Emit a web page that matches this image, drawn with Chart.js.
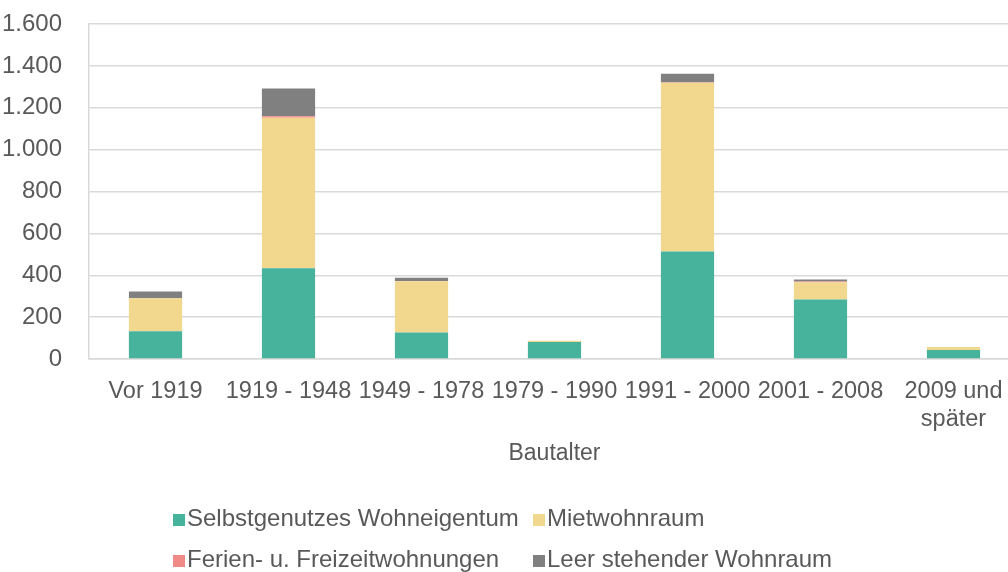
<!DOCTYPE html>
<html>
<head>
<meta charset="utf-8">
<script src="https://cdn.jsdelivr.net/npm/chart.js@4/dist/chart.umd.min.js"></script>
<style>
    html, body { margin: 0; padding: 0; overflow: hidden; background: #fff; }
    canvas { display: block; }
</style>
</head>
<body>
<canvas id="myChart" width="1020" height="572"></canvas>
<script>
const categories = ["Vor 1919", "1919 - 1948", "1949 - 1978", "1979 - 1990", "1991 - 2000", "2001 - 2008", ["2009 und", "später"]];
const seriesNames = ["Selbstgenutzes Wohneigentum", "Mietwohnraum", "Ferien- u. Freizeitwohnungen", "Leer stehender Wohnraum"];
const selbstgenutzt = [132, 433, 126, 81, 514, 284, 43];
const mietwohnraum = [158, 719, 245, 6, 805, 83, 14];
const ferienwohnungen = [0, 8, 1, 0, 3, 3, 0];
const leerstand = [32, 132, 16, 0, 40, 10, 0];
const yTicks = [0, 200, 400, 600, 800, 1000, 1200, 1400, 1600];

const colors = ["#47b39d", "#f2d88e", "#f08a86", "#808080"];
const textColor = "#595959";
const fontFamily = "'Liberation Sans', Arial, sans-serif";

// Legend in two columns, drawn by hand like the original
const gridLegend = {
    id: "gridLegend",
    afterDraw(chart) {
        const ctx = chart.ctx;
        const colX = [173, 533];
        const rowY = [519, 560];
        ctx.save();
        ctx.font = "24px " + fontFamily;
        ctx.textBaseline = "middle";
        ctx.textAlign = "left";
        chart.data.datasets.forEach((ds, i) => {
            const x = colX[i % 2];
            const y = rowY[Math.floor(i / 2)];
            ctx.fillStyle = ds.backgroundColor;
            ctx.fillRect(x, y - 5, 12, 12);
            ctx.fillStyle = textColor;
            ctx.fillText(ds.label, x + 14, y);
        });
        ctx.restore();
    }
};

const ctx = document.getElementById("myChart").getContext("2d");
const data = [selbstgenutzt, mietwohnraum, ferienwohnungen, leerstand];

new Chart(ctx, {
    type: "bar",
    data: {
        labels: categories,
        datasets: seriesNames.map((name, i) => ({
            label: name,
            data: data[i],
            backgroundColor: colors[i],
            borderWidth: 0,
            categoryPercentage: 1,
            barPercentage: 0.4
        }))
    },
    options: {
        responsive: false,
        animation: false,
        devicePixelRatio: 1,
        layout: { padding: { top: 24, right: 0, bottom: 105, left: 0 } },
        plugins: {
            legend: { display: false },
            tooltip: { enabled: false }
        },
        scales: {
            x: {
                stacked: true,
                grid: { display: false },
                border: { display: true, color: "#d9d9d9", width: 1.5 },
                ticks: {
                    color: textColor,
                    font: { family: fontFamily, size: 23.5 },
                    padding: 10,
                    maxRotation: 0,
                    autoSkip: false
                },
                title: {
                    display: true,
                    text: "Bautalter",
                    color: textColor,
                    font: { family: fontFamily, size: 23 },
                    padding: 0
                },
                afterFit(scale) {
                    scale.height = 108;
                    scale.paddingLeft = 0;
                    scale.paddingRight = 0;
                }
            },
            y: {
                stacked: true,
                min: 0,
                max: 1600,
                afterBuildTicks(scale) {
                    scale.ticks = yTicks.map(v => ({ value: v }));
                },
                grid: { color: "#d9d9d9", lineWidth: 1.5, drawTicks: false },
                border: { display: true, color: "#d9d9d9", width: 1.5 },
                ticks: {
                    color: textColor,
                    font: { family: fontFamily, size: 24 },
                    padding: 27,
                    callback: v => v.toLocaleString("de-DE")
                },
                afterFit(scale) {
                    scale.width = 89;
                    scale.paddingTop = 0;
                    scale.paddingBottom = 0;
                }
            }
        }
    },
    plugins: [gridLegend]
});
</script>
</body>
</html>
